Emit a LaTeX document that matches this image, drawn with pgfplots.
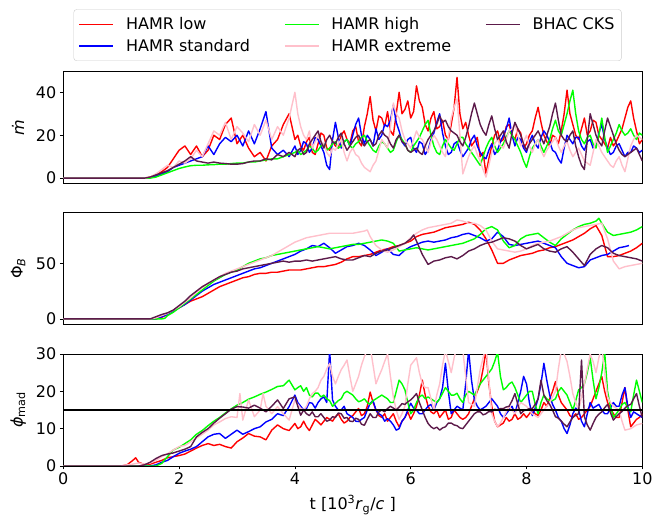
\documentclass[border=0pt]{standalone}
\usepackage{fontspec}
\setmainfont{DejaVu Sans}
\usepackage{pgfplots}
\pgfplotsset{compat=1.18}
\definecolor{hpink}{RGB}{255,192,203}
\definecolor{hgreen}{RGB}{0,255,0}
\definecolor{bhac}{RGB}{92,26,74}
\pgfplotsset{
  panel/.style={
    scale only axis, width=579pt, xmin=0, xmax=10,
    anchor=south west,
    tick align=outside, tick pos=left, major tick length=3.5pt,
    axis line style={line width=0.8pt},
    tick style={black, line width=0.8pt},
    tick label style={font=\fontsize{16}{19}\selectfont},
    label style={font=\fontsize{16}{19}\selectfont},
    /pgf/number format/assume math mode=true,
    every axis plot/.append style={line width=1.4pt, line join=round},
    every axis y label/.style={at={(axis description cs:-0.078,0.5)}, rotate=90, anchor=center, font=\fontsize{16}{19}\selectfont},
  }
}
\begin{document}
\begin{tikzpicture}
\path[use as bounding box] (0,0) rectangle (653pt,516pt);
% ---------------- panel 1 ----------------
\begin{axis}[panel, at={(63.3pt,332.7pt)}, height=111.6pt,
  ymin=-2.4, ymax=49.6, ytick={0,20,40}, xtick=\empty,
  ylabel={\textit{\.{m}}},
  legend columns=2, transpose legend, legend cell align=left,
  legend style={at={(axis description cs:0.491,1.096)}, anchor=south,
    draw=black!20, rounded corners=3pt, font=\fontsize{16}{19}\selectfont,
    /tikz/every even column/.append style={column sep=32pt},
    /tikz/every odd column/.append style={column sep=10pt},
    row sep=4pt, inner xsep=5pt, inner ysep=6pt},
  legend image code/.code={\draw[#1] (0pt,0pt) -- (34pt,0pt);}
]
\addplot[red] coordinates {(0,0) (1.4,0) (1.5,0.5) (1.6,1.5) (1.7,3) (1.8,5) (1.9,9) (2.0,13) (2.1,15) (2.2,11) (2.3,15) (2.4,10) (2.5,13) (2.6,20) (2.7,18) (2.8,25) (2.9,28) (3.0,16) (3.1,20) (3.2,14) (3.3,10) (3.4,12) (3.5,8) (3.6,15) (3.7,18) (3.8,25) (3.9,30)
(4.0,18) (4.05,20) (4.1,15) (4.15,13) (4.2,17) (4.25,19) (4.3,12) (4.35,11) (4.4,16) (4.45,21) (4.5,20) (4.55,14) (4.6,13) (4.65,17) (4.7,15) (4.75,14) (4.8,20) (4.85,22) (4.9,18) (4.95,16) (5.0,22) (5.05,24) (5.1,17) (5.15,15) (5.2,24) (5.25,30) (5.3,38) (5.35,27) (5.4,22) (5.45,29) (5.5,28) (5.55,24) (5.6,31) (5.65,22) (5.7,20) (5.75,30) (5.8,40) (5.85,30) (5.9,32) (5.95,36) (6.0,28) (6.05,31) (6.1,43) (6.15,36) (6.2,33) (6.25,25) (6.3,22) (6.35,28) (6.4,31) (6.45,23) (6.5,24) (6.55,27) (6.6,20) (6.65,18) (6.7,25) (6.75,33) (6.8,47) (6.85,30) (6.9,23) (6.95,26) (7.0,20) (7.05,15) (7.1,17) (7.15,19) (7.2,10) (7.25,12) (7.3,2) (7.35,9) (7.4,15) (7.45,20) (7.5,22) (7.55,17) (7.6,18) (7.65,24) (7.7,25) (7.75,20) (7.8,18) (7.85,23) (7.9,21) (7.95,14) (8.0,16) (8.05,20) (8.1,22) (8.15,28) (8.2,33) (8.25,26) (8.3,20) (8.35,17) (8.4,15) (8.45,20) (8.5,19) (8.55,16) (8.6,22) (8.65,30) (8.7,41) (8.75,30) (8.8,25) (8.85,20) (8.9,18) (8.95,23) (9.0,28) (9.05,20) (9.1,22) (9.15,27) (9.2,26) (9.25,20) (9.3,18) (9.35,16) (9.4,14) (9.45,19) (9.5,15) (9.55,17) (9.6,20) (9.65,23) (9.7,28) (9.75,33) (9.8,36) (9.85,28) (9.9,22) (9.95,16) (10.0,18)};
\addlegendentry{HAMR low}
\addplot[blue] coordinates {(0,0) (1.4,0) (1.5,0.2) (1.6,1) (1.7,2) (1.8,3) (1.9,5) (2.0,6) (2.1,7) (2.2,8) (2.3,9) (2.4,10) (2.5,15) (2.6,11) (2.7,16) (2.8,19) (2.9,17) (3.0,20) (3.1,15) (3.2,22) (3.3,16) (3.4,23) (3.5,31) (3.6,14) (3.7,11) (3.8,13) (3.9,10)
(4.0,15) (4.05,11) (4.1,13) (4.15,17) (4.2,16) (4.25,12) (4.3,14) (4.35,19) (4.4,18) (4.45,15) (4.5,12) (4.55,6) (4.6,4) (4.65,18) (4.7,26) (4.75,19) (4.8,14) (4.85,17) (4.9,18) (4.95,15) (5.0,20) (5.05,25) (5.1,28) (5.15,20) (5.2,16) (5.25,20) (5.3,18) (5.35,15) (5.4,23) (5.45,18) (5.5,20) (5.55,25) (5.6,24) (5.65,27) (5.7,34) (5.75,26) (5.8,22) (5.85,17) (5.9,15) (5.95,18) (6.0,19) (6.05,14) (6.1,12) (6.15,17) (6.2,16) (6.25,11) (6.3,13) (6.35,18) (6.4,21) (6.45,26) (6.5,30) (6.55,21) (6.6,15) (6.65,11) (6.7,12) (6.75,16) (6.8,17) (6.85,13) (6.9,10) (6.95,12) (7.0,14) (7.05,18) (7.1,20) (7.15,15) (7.2,12) (7.25,10) (7.3,9) (7.35,13) (7.4,16) (7.45,11) (7.5,13) (7.55,17) (7.6,20) (7.65,23) (7.7,28) (7.75,20) (7.8,15) (7.85,19) (7.9,18) (7.95,14) (8.0,12) (8.05,17) (8.1,20) (8.15,16) (8.2,14) (8.25,19) (8.3,22) (8.35,20) (8.4,17) (8.45,13) (8.5,12) (8.55,9) (8.6,7) (8.65,14) (8.7,20) (8.75,18) (8.8,16) (8.85,19) (8.9,19) (8.95,15) (9.0,13) (9.05,17) (9.1,18) (9.15,14) (9.2,15) (9.25,21) (9.3,25) (9.35,18) (9.4,14) (9.45,11) (9.5,12) (9.55,15) (9.6,16) (9.65,13) (9.7,10) (9.75,12) (9.8,12) (9.85,15) (9.9,14) (9.95,12) (10.0,13)};
\addlegendentry{HAMR standard}
\addplot[hgreen] coordinates {(0,0) (1.5,0) (1.6,0.5) (1.7,1.5) (1.8,2.5) (1.9,3.5) (2.0,4.5) (2.1,5.2) (2.2,5.8) (2.3,6) (2.4,6) (2.5,6.2) (2.6,6.3) (2.7,6.5) (2.8,6.5) (2.9,6.8) (3.0,7) (3.1,7) (3.2,7.5) (3.3,7.5) (3.4,8) (3.5,8.5) (3.6,9) (3.7,9) (3.8,10) (3.9,11)
(4.0,12) (4.05,13) (4.1,11) (4.15,12) (4.2,13) (4.25,15) (4.3,14) (4.35,12) (4.4,13) (4.45,15) (4.5,16) (4.55,13) (4.6,14) (4.65,16) (4.7,17) (4.75,14) (4.8,15) (4.85,17) (4.9,18) (4.95,15) (5.0,14) (5.05,16) (5.1,17) (5.15,19) (5.2,20) (5.25,17) (5.3,15) (5.35,13) (5.4,12) (5.45,15) (5.5,17) (5.55,16) (5.6,14) (5.65,12) (5.7,13) (5.75,17) (5.8,20) (5.85,18) (5.9,16) (5.95,13) (6.0,12) (6.05,15) (6.1,17) (6.15,19) (6.2,22) (6.25,25) (6.3,27) (6.35,20) (6.4,15) (6.45,12) (6.5,11) (6.55,15) (6.6,18) (6.65,16) (6.7,14) (6.75,13) (6.8,16) (6.85,19) (6.9,19) (6.95,16) (7.0,14) (7.05,12) (7.1,10) (7.15,8) (7.2,6) (7.25,10) (7.3,14) (7.35,17) (7.4,19) (7.45,15) (7.5,12) (7.55,14) (7.6,16) (7.65,19) (7.7,22) (7.75,20) (7.8,18) (7.85,15) (7.9,12) (7.95,8) (8.0,5) (8.05,10) (8.1,14) (8.15,16) (8.2,18) (8.25,15) (8.3,12) (8.35,15) (8.4,18) (8.45,23) (8.5,27) (8.55,22) (8.6,20) (8.65,25) (8.7,30) (8.75,36) (8.8,41) (8.85,30) (8.9,22) (8.95,18) (9.0,16) (9.05,19) (9.1,20) (9.15,16) (9.2,14) (9.25,20) (9.3,28) (9.35,19) (9.4,12) (9.45,15) (9.5,18) (9.55,21) (9.6,25) (9.65,22) (9.7,20) (9.75,21) (9.8,23) (9.85,20) (9.9,18) (9.95,21) (10.0,20)};
\addlegendentry{HAMR high}
\addplot[hpink] coordinates {(0,0) (1.4,0) (1.5,0.5) (1.6,2) (1.7,4) (1.8,6) (1.9,5) (2.0,8) (2.1,7) (2.2,9) (2.3,13) (2.4,10) (2.5,16) (2.6,22) (2.7,20) (2.8,26) (2.9,18) (3.0,24) (3.1,21) (3.2,17) (3.3,25) (3.4,20) (3.5,27) (3.6,18) (3.7,24) (3.8,20) (3.9,28)
(4.0,40) (4.05,30) (4.1,24) (4.15,20) (4.2,18) (4.25,22) (4.3,14) (4.35,17) (4.4,20) (4.45,17) (4.5,16) (4.55,12) (4.6,10) (4.65,14) (4.7,13) (4.75,16) (4.8,18) (4.85,12) (4.9,8) (4.95,12) (5.0,14) (5.05,11) (5.1,10) (5.15,7) (5.2,5) (5.25,4) (5.3,3) (5.35,6) (5.4,8) (5.45,13) (5.5,18) (5.55,16) (5.6,14) (5.65,24) (5.7,35) (5.75,30) (5.8,28) (5.85,22) (5.9,18) (5.95,16) (6.0,14) (6.05,18) (6.1,22) (6.15,19) (6.2,18) (6.25,15) (6.3,12) (6.35,17) (6.4,20) (6.45,18) (6.5,15) (6.55,12) (6.6,10) (6.65,19) (6.7,28) (6.75,33) (6.8,37) (6.85,20) (6.9,2) (6.95,6) (7.0,10) (7.05,13) (7.1,15) (7.15,11) (7.2,8) (7.25,4) (7.3,0.5) (7.35,6) (7.4,12) (7.45,16) (7.5,18) (7.55,15) (7.6,14) (7.65,18) (7.7,22) (7.75,23) (7.8,25) (7.85,20) (7.9,15) (7.95,17) (8.0,20) (8.05,15) (8.1,12) (8.15,16) (8.2,18) (8.25,13) (8.3,10) (8.35,13) (8.4,15) (8.45,17) (8.5,19) (8.55,15) (8.6,12) (8.65,15) (8.7,17) (8.75,13) (8.8,10) (8.85,12) (8.9,14) (8.95,11) (9.0,8) (9.05,7) (9.1,6) (9.15,12) (9.2,18) (9.25,15) (9.3,12) (9.35,10) (9.4,8) (9.45,6) (9.5,5) (9.55,8) (9.6,10) (9.65,6) (9.7,3) (9.75,9) (9.8,15) (9.85,18) (9.9,20) (9.95,19) (10.0,18)};
\addlegendentry{HAMR extreme}
\addplot[bhac] coordinates {(0,0) (1.4,0) (1.5,0.5) (1.6,1.5) (1.7,2.5) (1.8,3.5) (1.9,5) (2.0,6.5) (2.1,8) (2.2,10) (2.3,8) (2.4,7.5) (2.5,7) (2.6,7.5) (2.7,7) (2.8,6.8) (2.9,6.5) (3.0,6.5) (3.1,6.8) (3.2,7.5) (3.3,8) (3.4,8) (3.5,9) (3.6,8.5) (3.7,11) (3.8,10) (3.9,12)
(4.0,10) (4.05,13) (4.1,14) (4.15,11) (4.2,12) (4.25,16) (4.3,18) (4.35,20) (4.4,22) (4.45,17) (4.5,14) (4.55,18) (4.6,20) (4.65,17) (4.7,16) (4.75,19) (4.8,21) (4.85,16) (4.9,13) (4.95,15) (5.0,17) (5.05,19) (5.1,20) (5.15,17) (5.2,15) (5.25,17) (5.3,18) (5.35,15) (5.4,16) (5.45,20) (5.5,22) (5.55,20) (5.6,19) (5.65,16) (5.7,14) (5.75,18) (5.8,20) (5.85,17) (5.9,16) (5.95,13) (6.0,12) (6.05,13) (6.1,14) (6.15,12) (6.2,11) (6.25,15) (6.3,18) (6.35,20) (6.4,22) (6.45,25) (6.5,29) (6.55,26) (6.6,27) (6.65,24) (6.7,22) (6.75,21) (6.8,20) (6.85,17) (6.9,15) (6.95,19) (7.0,24) (7.05,30) (7.1,35) (7.15,30) (7.2,25) (7.25,22) (7.3,20) (7.35,25) (7.4,29) (7.45,23) (7.5,18) (7.55,20) (7.6,22) (7.65,17) (7.7,14) (7.75,21) (7.8,26) (7.85,23) (7.9,20) (7.95,16) (8.0,13) (8.05,16) (8.1,18) (8.15,20) (8.2,22) (8.25,19) (8.3,16) (8.35,20) (8.4,24) (8.45,30) (8.5,35) (8.55,27) (8.6,20) (8.65,18) (8.7,17) (8.75,20) (8.8,22) (8.85,15) (8.9,10) (8.95,6) (9.0,4) (9.05,18) (9.1,30) (9.15,25) (9.2,20) (9.25,17) (9.3,15) (9.35,22) (9.4,28) (9.45,24) (9.5,20) (9.55,16) (9.6,13) (9.65,11) (9.7,10) (9.75,11) (9.8,12) (9.85,13) (9.9,14) (9.95,11) (10.0,8)};
\addlegendentry{BHAC CKS}
\end{axis}
% ---------------- panel 2 ----------------
\begin{axis}[panel, at={(63.3pt,192pt)}, height=111.3pt,
  ymin=-4.55, ymax=95.5, ytick={0,50}, xtick=\empty,
  ylabel={Φ\textsubscript{\textit{B}}}]
\addplot[red] coordinates {(0,0) (1.6,0) (1.7,1.5) (1.8,4) (1.9,7) (2.0,10) (2.1,13) (2.2,16) (2.3,18) (2.4,20) (2.5,23) (2.6,26) (2.7,29) (2.8,31) (2.9,33) (3.0,35) (3.1,37) (3.2,38) (3.3,40) (3.4,41) (3.5,41) (3.6,42) (3.7,42) (3.8,43) (3.9,44) (4.0,44) (4.1,44) (4.2,45) (4.3,46) (4.4,47) (4.5,47) (4.6,48) (4.7,49) (4.8,51) (4.9,54) (5.0,56) (5.1,56) (5.2,57) (5.3,58) (5.4,60) (5.5,62) (5.6,63) (5.7,65) (5.8,66) (5.9,68) (6.0,70) (6.1,74) (6.2,76) (6.3,77) (6.4,78) (6.5,80) (6.6,82) (6.7,83) (6.8,84) (6.9,85) (7.0,87) (7.1,85) (7.2,80) (7.3,72) (7.4,62) (7.5,50) (7.6,50) (7.7,53) (7.8,55) (7.9,57) (8.0,58) (8.1,59) (8.2,61) (8.3,62) (8.4,64) (8.5,65) (8.6,67) (8.7,69) (8.8,71) (8.9,74) (9.0,77) (9.1,81) (9.2,84) (9.3,75) (9.4,56) (9.5,56) (9.6,57) (9.7,59) (9.8,61) (9.9,64) (10.0,68)};
\addplot[blue] coordinates {(0,0) (1.6,0) (1.7,2) (1.8,4) (1.9,7) (2.0,10) (2.1,13) (2.2,17) (2.3,21) (2.4,25) (2.5,28) (2.6,31) (2.7,33) (2.8,35) (2.9,37) (3.0,39) (3.1,41) (3.2,43) (3.3,45) (3.4,46) (3.5,48) (3.6,50) (3.7,52) (3.8,54) (3.9,56) (4.0,58) (4.1,61) (4.2,63) (4.3,66) (4.4,65) (4.5,68) (4.6,64) (4.7,59) (4.8,62) (4.9,65) (5.0,66) (5.1,68) (5.2,66) (5.3,62) (5.4,57) (5.5,60) (5.6,63) (5.7,58) (5.8,57) (5.9,62) (6.0,65) (6.1,67) (6.2,69) (6.3,70) (6.4,69) (6.5,70) (6.6,71) (6.7,73) (6.8,74) (6.9,76) (7.0,77) (7.1,75) (7.2,73) (7.3,70) (7.4,72) (7.5,78) (7.6,74) (7.7,67) (7.8,66) (7.9,67) (8.0,68) (8.1,69) (8.2,70) (8.3,68) (8.4,66) (8.5,64) (8.6,56) (8.7,50) (8.8,48) (8.9,46) (9.0,47) (9.1,53) (9.2,55) (9.3,57) (9.4,58) (9.5,61) (9.6,64) (9.7,65) (9.77,66)};
\addplot[hgreen] coordinates {(0,0) (1.7,0) (1.75,0.5) (1.8,3) (1.9,6) (2.0,10) (2.1,14) (2.2,18) (2.3,22) (2.4,26) (2.5,30) (2.6,34) (2.7,37) (2.8,40) (2.9,42) (3.0,44) (3.1,47) (3.2,50) (3.3,52) (3.4,54) (3.5,55) (3.6,57) (3.7,58) (3.8,59) (3.9,60) (4.0,61) (4.1,62) (4.2,63) (4.3,64) (4.4,65) (4.5,64) (4.6,63) (4.7,64) (4.8,65) (4.9,66) (5.0,67) (5.1,67) (5.2,68) (5.3,69) (5.4,70) (5.5,71) (5.6,70) (5.7,68) (5.8,61) (5.9,62) (6.0,63) (6.1,64) (6.2,63) (6.3,62) (6.4,63) (6.5,64) (6.6,65) (6.7,66) (6.8,67) (6.9,68) (7.0,70) (7.1,72) (7.2,76) (7.3,81) (7.4,83) (7.5,80) (7.6,70) (7.7,64) (7.8,66) (7.9,72) (8.0,75) (8.1,76) (8.2,77) (8.3,73) (8.4,69) (8.5,66) (8.6,72) (8.7,76) (8.8,80) (8.9,83) (9.0,85) (9.1,86) (9.2,88) (9.25,90.5) (9.3,86) (9.4,78) (9.5,75) (9.6,76) (9.7,77) (9.8,78) (9.9,80) (10.0,83)};
\addplot[hpink] coordinates {(0,0) (1.5,0) (1.6,1) (1.7,3) (1.8,5) (1.9,8) (2.0,11) (2.1,15) (2.2,19) (2.3,24) (2.4,28) (2.5,32) (2.6,35) (2.7,38) (2.8,41) (2.9,43) (3.0,45) (3.1,47) (3.2,49) (3.3,51) (3.4,53) (3.5,55) (3.6,57) (3.7,60) (3.8,63) (3.9,66) (4.0,69) (4.1,71) (4.2,73) (4.3,74) (4.4,75) (4.5,76) (4.6,77) (4.7,77) (4.8,77) (4.9,77) (5.0,77) (5.1,78) (5.2,79) (5.25,80) (5.3,74) (5.4,66) (5.5,62) (5.6,60) (5.7,62) (5.8,65) (5.9,68) (6.0,73) (6.1,77) (6.2,80) (6.3,82) (6.4,83) (6.5,84) (6.6,85) (6.7,86) (6.8,89) (6.9,88) (7.0,86) (7.1,86) (7.2,84) (7.3,80) (7.4,70) (7.5,63) (7.6,62) (7.7,61) (7.8,60) (7.9,61) (8.0,63) (8.1,66) (8.2,68) (8.3,69) (8.4,70) (8.5,72) (8.6,74) (8.7,77) (8.8,80) (8.9,82) (9.0,83) (9.1,84) (9.2,85) (9.3,86) (9.4,72) (9.5,52) (9.6,45) (9.7,47) (9.8,48) (9.9,49) (10.0,50)};
\addplot[bhac] coordinates {(0,0) (1.5,0) (1.6,2) (1.7,4) (1.8,5.5) (1.9,8) (2.0,12) (2.1,16) (2.2,21) (2.3,25) (2.4,29) (2.5,32) (2.6,35) (2.7,38) (2.8,40) (2.9,42) (3.0,43) (3.1,45) (3.2,46) (3.3,47) (3.4,48) (3.5,49) (3.6,50) (3.7,51) (3.8,52) (3.9,51) (4.0,52) (4.1,52) (4.2,53) (4.3,52) (4.4,53) (4.5,54) (4.6,55) (4.7,56) (4.8,54) (4.9,53) (5.0,53) (5.1,55) (5.2,57) (5.3,56) (5.4,59) (5.5,61) (5.6,62) (5.7,64) (5.8,66) (5.9,68) (6.0,72) (6.05,75.5) (6.1,70) (6.2,58) (6.3,49) (6.4,52) (6.5,53) (6.6,55) (6.7,56) (6.8,54) (6.9,57) (7.0,61) (7.1,63) (7.2,66) (7.3,68) (7.4,69) (7.5,71) (7.6,73) (7.7,72) (7.8,70) (7.9,66) (8.0,63) (8.1,65) (8.2,67) (8.3,63) (8.4,61) (8.5,60) (8.6,63) (8.7,65) (8.8,60) (8.9,54) (9.0,48) (9.1,58) (9.2,63) (9.3,66) (9.4,64) (9.5,59) (9.6,57) (9.7,56) (9.8,55) (9.9,54) (10.0,52)};
\end{axis}
% ---------------- panel 3 ----------------
\begin{axis}[panel, at={(63.3pt,50pt)}, height=112pt,
  ymin=0, ymax=30, ytick={0,10,20,30}, xtick={0,2,4,6,8,10},
  ylabel={\textit{ϕ}\textsubscript{mad}},
  xlabel={t [10\textsuperscript{3}\textit{r}\textsubscript{g}/\textit{c} ]},
  xlabel style={yshift=-3pt}]
\addplot[red] coordinates {(0,0) (1.0,0) (1.1,0.3) (1.2,1.5) (1.25,2.2) (1.3,1) (1.4,0.4) (1.5,0.5) (1.6,1) (1.7,1.5) (1.8,2.2) (1.9,2.5) (2.0,2.8) (2.1,3.2) (2.2,4) (2.3,4.8) (2.4,5.5) (2.5,6) (2.6,5.5) (2.7,5.8) (2.8,5.2) (2.9,4.8) (3.0,6.5) (3.1,7.5) (3.2,8.7) (3.3,8) (3.4,7.8) (3.5,7) (3.6,9.6) (3.7,11) (3.8,10) (3.9,9.5)
(4.0,11.4) (4.05,10) (4.1,10.5) (4.15,12) (4.2,10.5) (4.25,9.5) (4.3,11) (4.35,12.5) (4.4,11.8) (4.45,11) (4.5,12) (4.55,13) (4.6,12.5) (4.65,12) (4.7,13.2) (4.75,14) (4.8,12.5) (4.85,11.5) (4.9,12) (4.95,13) (5.0,13.5) (5.05,14.5) (5.1,15.4) (5.15,13.5) (5.2,14) (5.25,16) (5.3,19.8) (5.35,17) (5.4,15) (5.45,13.5) (5.5,13) (5.55,14) (5.6,12) (5.65,13) (5.7,14) (5.75,12) (5.8,10.5) (5.85,12) (5.9,13) (5.95,14.5) (6.0,12.5) (6.05,14) (6.1,16) (6.15,19) (6.2,23) (6.25,19) (6.3,16) (6.35,14.5) (6.4,14) (6.45,15) (6.5,13) (6.55,14) (6.6,15) (6.65,12.5) (6.7,13) (6.75,15) (6.8,14) (6.85,13) (6.9,12.5) (6.95,13) (7.0,14) (7.05,16) (7.1,18) (7.15,20) (7.2,22) (7.25,26) (7.3,31) (7.35,22) (7.4,16) (7.45,12) (7.5,10.5) (7.55,11) (7.6,11.5) (7.65,13) (7.7,12) (7.75,12.5) (7.8,14) (7.85,12.5) (7.9,13) (7.95,14) (8.0,13) (8.05,14) (8.1,15) (8.15,14) (8.2,13.5) (8.25,15) (8.3,17) (8.35,16) (8.4,18) (8.45,20) (8.5,22.6) (8.55,19) (8.6,17) (8.65,16) (8.7,15) (8.75,13.5) (8.8,13) (8.85,14) (8.9,12.5) (8.95,13) (9.0,14) (9.05,15) (9.1,16) (9.15,18) (9.2,20) (9.25,22) (9.3,24) (9.35,20) (9.4,17) (9.45,15.5) (9.5,14) (9.55,13) (9.6,13) (9.65,17) (9.7,21) (9.75,15) (9.8,10.5) (9.85,11.5) (9.9,12.5) (9.95,13) (10.0,14)};
\addplot[blue] coordinates {(0,0) (1.5,0) (1.6,0.3) (1.7,1) (1.8,1.5) (1.9,2.5) (2.0,3.4) (2.1,4) (2.2,4.5) (2.3,5.2) (2.4,6.5) (2.5,7.8) (2.6,8.5) (2.7,8.7) (2.8,7.4) (2.9,8.5) (3.0,9.6) (3.1,8.5) (3.2,9.2) (3.3,10) (3.4,10.5) (3.5,11.8) (3.6,12.5) (3.7,14) (3.8,13.5) (3.9,15.9)
(4.0,19) (4.05,17) (4.1,16) (4.15,15) (4.2,15.4) (4.25,17) (4.3,16.8) (4.35,15.5) (4.4,17) (4.45,18) (4.5,18.5) (4.55,17) (4.6,31) (4.65,17.7) (4.7,16) (4.75,15) (4.8,15) (4.85,16) (4.9,14) (4.95,13.5) (5.0,13) (5.05,12) (5.1,11.9) (5.15,12.5) (5.2,13) (5.25,15) (5.3,16.8) (5.35,17.5) (5.4,15) (5.45,14) (5.5,13.5) (5.55,12) (5.6,12.7) (5.65,12) (5.7,11) (5.75,9.6) (5.8,10) (5.85,12) (5.9,13) (5.95,15) (6.0,16.8) (6.05,15.5) (6.1,15) (6.15,14) (6.2,14) (6.25,15) (6.3,16) (6.35,16.5) (6.4,15) (6.45,17) (6.5,18) (6.55,21) (6.6,27.5) (6.65,20) (6.7,14) (6.75,15) (6.8,16) (6.85,15.5) (6.9,15) (6.95,22) (7.0,31) (7.05,23) (7.1,17.7) (7.15,16) (7.2,15) (7.25,15.5) (7.3,16) (7.35,17) (7.4,18) (7.45,17) (7.5,16) (7.55,14) (7.6,13) (7.65,14) (7.7,15) (7.75,16) (7.8,14) (7.85,17) (7.9,20) (7.95,24) (8.0,22) (8.05,17) (8.1,13.5) (8.15,15.5) (8.2,18) (8.25,22) (8.3,27.5) (8.35,23) (8.4,19) (8.45,16.5) (8.5,15) (8.55,13) (8.6,12) (8.65,10) (8.7,8.7) (8.75,11) (8.8,14) (8.85,15.5) (8.9,15) (8.95,12) (9.0,10.5) (9.05,14) (9.1,17) (9.15,15.5) (9.2,16) (9.25,16.5) (9.3,15) (9.35,14) (9.4,14) (9.45,15.5) (9.5,17) (9.55,16) (9.6,16) (9.65,19) (9.7,21) (9.75,16) (9.8,13) (9.85,14.5) (9.9,14) (9.95,13.5) (10.0,13)};
\addplot[hgreen] coordinates {(0,0) (1.6,0) (1.7,0.7) (1.8,2.5) (1.9,4.3) (2.0,5) (2.1,6) (2.2,7) (2.3,8.5) (2.4,9.5) (2.5,10.8) (2.6,12) (2.7,13) (2.8,14.2) (2.9,15.3) (3.0,16.3) (3.1,17) (3.2,17.9) (3.3,18.5) (3.4,19.2) (3.5,19.8) (3.6,20.5) (3.7,21.3) (3.8,21.5) (3.9,23)
(4.0,20.4) (4.05,21) (4.1,21.5) (4.15,20) (4.2,21) (4.25,19) (4.3,18.5) (4.35,19.5) (4.4,19.5) (4.45,18.5) (4.5,19) (4.55,18) (4.6,17.5) (4.65,16) (4.7,16.8) (4.75,17.5) (4.8,18) (4.85,19.5) (4.9,20) (4.95,19.5) (5.0,19) (5.05,18) (5.1,17.2) (5.15,17.5) (5.2,18) (5.25,17) (5.3,16.5) (5.35,17.5) (5.4,18) (5.45,18.5) (5.5,19) (5.55,18.5) (5.6,18) (5.65,17) (5.7,17) (5.75,20) (5.8,23) (5.85,22) (5.9,20.4) (5.95,17) (6.0,14) (6.05,15) (6.1,17) (6.15,18.5) (6.2,19) (6.25,18) (6.3,18.5) (6.35,18) (6.4,17.5) (6.45,17) (6.5,18) (6.55,19.5) (6.6,21) (6.65,20) (6.7,19) (6.75,19) (6.8,19.5) (6.85,18) (6.9,17) (6.95,19) (7.0,20) (7.05,19.5) (7.1,19) (7.15,20.5) (7.2,22) (7.25,23) (7.3,24) (7.35,25) (7.4,26) (7.45,28) (7.5,30.5) (7.55,24) (7.6,20.4) (7.65,21) (7.7,22) (7.75,22.5) (7.8,21) (7.85,19) (7.9,17) (7.95,18) (8.0,19) (8.05,20) (8.1,20) (8.15,16.5) (8.2,14) (8.25,17) (8.3,19) (8.35,18) (8.4,17.5) (8.45,17.5) (8.5,18) (8.55,20) (8.6,21) (8.65,20) (8.7,19) (8.75,17) (8.8,15) (8.85,17.5) (8.9,20.4) (8.95,21) (9.0,22) (9.05,25) (9.1,29) (9.15,23) (9.2,18) (9.25,21) (9.3,25) (9.35,30.5) (9.4,20) (9.45,16) (9.5,13) (9.55,14) (9.6,15) (9.65,16.5) (9.7,17) (9.75,15.5) (9.8,14.5) (9.85,19) (9.9,23) (9.95,20) (10.0,17)};
\addplot[hpink] coordinates {(0,0) (1.0,0) (1.1,0.3) (1.2,0.5) (1.3,0.8) (1.4,0.5) (1.5,0.8) (1.6,1.5) (1.7,2.5) (1.8,3.3) (1.9,4.3) (2.0,5.2) (2.1,5.5) (2.2,6.5) (2.3,7.5) (2.4,8.5) (2.5,9.6) (2.6,11) (2.7,11.8) (2.8,12.7) (2.9,13.2) (3.0,13) (3.05,19.4) (3.1,12.3) (3.2,17.7) (3.3,13.2) (3.4,15) (3.45,19.4) (3.5,16) (3.6,14) (3.7,15.9) (3.8,14) (3.9,12.3)
(4.0,17.7) (4.05,16.5) (4.1,15.5) (4.15,15) (4.2,16) (4.25,18) (4.3,19.4) (4.35,20) (4.4,21) (4.45,23) (4.5,24) (4.55,26) (4.6,27.5) (4.65,24) (4.7,22) (4.75,24) (4.8,25.8) (4.85,27) (4.9,28.4) (4.95,24) (5.0,20) (5.05,22) (5.1,24) (5.15,27) (5.2,29.3) (5.25,31) (5.3,32) (5.35,27) (5.4,22) (5.45,24) (5.5,25.8) (5.55,28) (5.6,30) (5.65,24) (5.7,18.5) (5.75,15) (5.8,12.5) (5.85,14) (5.9,16) (5.95,22) (6.0,27) (6.05,28) (6.1,29) (6.15,25) (6.2,22) (6.25,21) (6.3,21) (6.35,18) (6.4,15) (6.45,19) (6.5,22) (6.55,27) (6.6,31) (6.65,28) (6.7,25) (6.75,29) (6.8,32) (6.85,31) (6.9,31) (6.95,24) (7.0,17) (7.05,16.5) (7.1,16) (7.15,21) (7.2,25.8) (7.25,29) (7.3,32) (7.35,23) (7.4,14) (7.45,12) (7.5,10.5) (7.55,11.5) (7.6,13) (7.65,14.5) (7.7,16) (7.75,15) (7.8,14) (7.85,15.5) (7.9,17) (7.95,16.5) (8.0,16) (8.05,15) (8.1,14) (8.15,13.5) (8.2,13) (8.25,14) (8.3,15) (8.35,16) (8.4,17) (8.45,18.5) (8.5,20) (8.55,26) (8.6,31) (8.65,30) (8.7,28) (8.75,24) (8.8,19.4) (8.85,17) (8.9,15) (8.95,18.5) (9.0,22) (9.05,26) (9.1,30) (9.15,28) (9.2,25) (9.25,29) (9.3,32) (9.35,25) (9.4,18.5) (9.45,17) (9.5,16) (9.55,15.5) (9.6,15) (9.65,12) (9.7,9.6) (9.75,9.8) (9.8,10) (9.85,10.5) (9.9,11) (9.95,11.2) (10.0,11.4)};
\addplot[bhac] coordinates {(0,0) (1.3,0) (1.4,0.3) (1.5,1) (1.6,2) (1.7,2.8) (1.8,3.2) (1.9,3.5) (2.0,4) (2.1,4.5) (2.2,5.2) (2.3,7.8) (2.4,9) (2.5,10) (2.6,11.5) (2.7,12.8) (2.8,14) (2.9,15.2) (3.0,15.9) (3.1,15.8) (3.2,15.5) (3.3,16.3) (3.4,15.5) (3.5,14.5) (3.6,16) (3.7,17.7) (3.8,15.4) (3.9,18)
(4.0,18.5) (4.05,16) (4.1,13.6) (4.15,15) (4.2,14) (4.25,13.5) (4.3,14.5) (4.35,13.2) (4.4,13.2) (4.45,14) (4.5,13) (4.55,12) (4.6,12.3) (4.65,13.2) (4.7,13) (4.75,14.2) (4.8,14) (4.85,12.8) (4.9,13) (4.95,12) (5.0,11.9) (5.05,12.8) (5.1,12.5) (5.15,11.2) (5.2,10.9) (5.25,12.5) (5.3,14) (5.35,13) (5.4,13) (5.45,14.5) (5.5,15) (5.55,14.5) (5.6,15.4) (5.65,16) (5.7,15.5) (5.75,15) (5.8,15.8) (5.85,16.7) (5.9,16.5) (5.95,17.2) (6.0,17.7) (6.05,18.5) (6.1,19.4) (6.15,17) (6.2,15) (6.25,13) (6.3,11.4) (6.35,10.5) (6.4,10) (6.45,10.4) (6.5,9.6) (6.55,10.2) (6.6,10.5) (6.65,11.5) (6.7,11.5) (6.75,11) (6.8,10.8) (6.85,10.2) (6.9,10) (6.95,11) (7.0,12) (7.05,13) (7.1,14) (7.15,14.5) (7.2,14.5) (7.25,13.7) (7.3,14) (7.35,14.6) (7.4,14.5) (7.45,15.2) (7.5,15) (7.55,15.4) (7.6,15.4) (7.65,15.8) (7.7,16) (7.75,17.5) (7.8,19.4) (7.85,16.5) (7.9,14) (7.95,14.8) (8.0,15) (8.05,15.4) (8.1,15.4) (8.15,16.5) (8.2,18) (8.25,23) (8.3,19) (8.35,17.5) (8.4,16.5) (8.45,15) (8.5,13.2) (8.55,12.8) (8.6,12) (8.65,11.2) (8.7,10.5) (8.75,11.8) (8.8,13) (8.85,13.6) (8.9,14) (8.95,28.4) (9.0,13.2) (9.05,11) (9.1,9.6) (9.15,11.4) (9.2,13) (9.25,13.9) (9.3,14.5) (9.35,15.6) (9.4,16.5) (9.45,14.3) (9.5,12.3) (9.55,13.2) (9.6,14) (9.65,14.6) (9.7,15.5) (9.75,16.2) (9.8,16.5) (9.85,18) (9.9,19.4) (9.95,16) (10.0,13)};
\addplot[black, line width=2pt] coordinates {(0,15) (10,15)};
\end{axis}
\end{tikzpicture}
\end{document}
